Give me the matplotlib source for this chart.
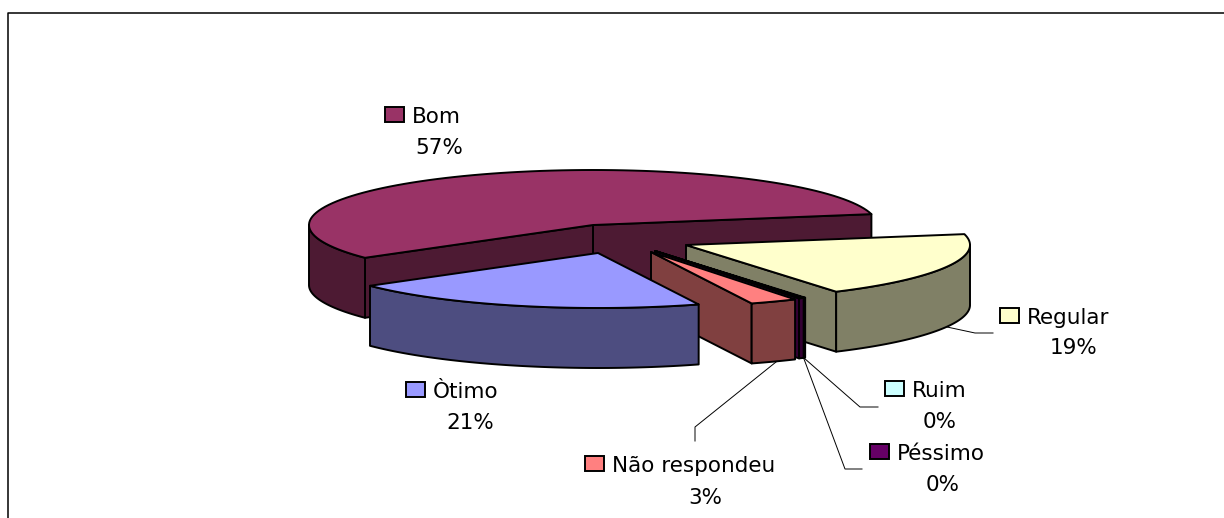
"""
Exploded 3D pie, drawn by hand because matplotlib has no tilted pie with depth.
Slices are projected to ellipses in pixel coordinates of the figure.
"""

import numpy as np
import matplotlib
matplotlib.use("Agg")
import matplotlib.pyplot as plt
from matplotlib.patches import Polygon, Rectangle

# ─── Data ──────────────────────────────────────────────────────────────────────

labels = ["Bom", "Òtimo", "Não respondeu", "Péssimo", "Ruim", "Regular"]
values = [57.0, 20.6, 2.7, 0.3, 0.1, 19.3]
colors = ["#993366", "#9999FF", "#FF8080", "#660066", "#CCFFFF", "#FFFFCC"]

# ─── Layout ────────────────────────────────────────────────────────────────────

W, H = 1224, 518
CX, CY = 593, 225
RX, RY = 284, 55
DEPTH = 60
START_ANGLE = 11.4

# how far each slice is pulled out of the pie (px)
offsets = [(0, 0), (5, 28), (58, 27), (62, 26), (62, 26), (93, 20)]
# back to front
draw_order = [0, 5, 4, 3, 2, 1]

# swatch x, swatch y, percent centre x, label y, percent y
label_pos = [
    (385, 107, 439, 117, 148),
    (406, 382, 470, 392, 423),
    (585, 456, 705, 466, 498),
    (870, 444, 943, 454, 485),
    (885, 381, 940, 391, 422),
    (1000, 308, 1074, 318, 348),
]

leaders = [
    [(947, 327), (975, 333), (993, 333)],
    [(804, 358), (860, 407), (878, 407)],
    [(804, 359), (845, 469), (862, 469)],
    [(776, 362), (695, 427), (695, 441)],
]


def shade(color):
    r, g, b = matplotlib.colors.to_rgb(color)
    return (r * 0.5, g * 0.5, b * 0.5)


def rim(a1, a2, cx, cy):
    t = np.radians(np.linspace(a1, a2, 100))
    return np.column_stack([cx + RX * np.cos(t), cy - RY * np.sin(t)])


def draw_slice(ax, a1, a2, off, color):
    cx, cy = CX + off[0], CY + off[1]
    side = shade(color)
    style = dict(edgecolor="black", linewidth=1.4, joinstyle="round")

    # cut faces, only those turned to the viewer
    for a, normal in ((a1, a1 - 90), (a2, a2 + 90)):
        if np.sin(np.radians(normal)) < 0:
            p = rim(a, a, cx, cy)[0]
            face = [(cx, cy), p, p + (0, DEPTH), (cx, cy + DEPTH)]
            ax.add_patch(Polygon(face, facecolor=side, **style))

    # outer wall, lower half of the ellipse only
    for k in (0, 360):
        lo, hi = max(a1, 180 + k), min(a2, 360 + k)
        if lo < hi:
            arc = rim(lo, hi, cx, cy)
            wall = np.vstack([arc, (arc + (0, DEPTH))[::-1]])
            ax.add_patch(Polygon(wall, facecolor=side, **style))

    top = np.vstack([[(cx, cy)], rim(a1, a2, cx, cy)])
    ax.add_patch(Polygon(top, facecolor=color, **style))


fig = plt.figure(figsize=(W / 100, H / 100), dpi=100)
ax = fig.add_axes([0, 0, 1, 1])
ax.set_xlim(0, W)
ax.set_ylim(H, 0)
ax.axis("off")

# chart frame, runs off the right and bottom of the picture
ax.plot([8, 8, W], [H, 12.5, 12.5], color="black", lw=1.1)

# slice angles from the values
spans = np.array(values) / sum(values) * 360
starts = START_ANGLE + np.concatenate([[0], np.cumsum(spans)[:-1]])

for i in draw_order:
    draw_slice(ax, starts[i], starts[i] + spans[i], offsets[i], colors[i])

for line in leaders:
    xs, ys = zip(*line)
    ax.plot(xs, ys, color="black", lw=0.7)

for i, (sx, sy, tx, ly, py) in enumerate(label_pos):
    ax.add_patch(Rectangle((sx, sy), 19, 15, facecolor=colors[i],
                           edgecolor="black", linewidth=1.4))
    ax.text(sx + 27, ly, labels[i], fontsize=15.5, ha="left", va="center")
    ax.text(tx, py, f"{values[i]:.0f}%", fontsize=15.5, ha="center", va="center")

fig.savefig("out.png", dpi=100)
